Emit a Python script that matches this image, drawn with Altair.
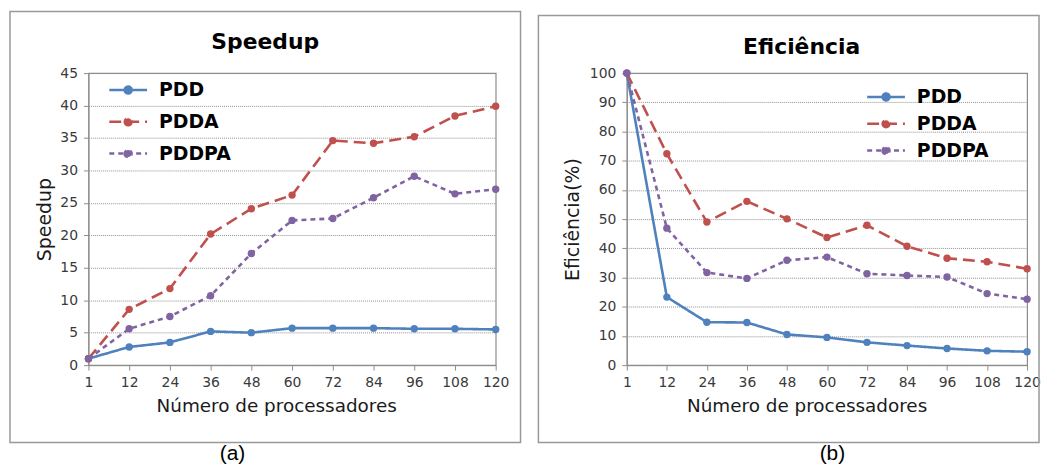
import altair as alt
import pandas as pd

# ---------------- data ----------------
procs = ["1", "12", "24", "36", "48", "60", "72", "84", "96", "108", "120"]
series = ["PDD", "PDDA", "PDDPA"]

speedup_pdd = [1, 2.8, 3.5, 5.2, 5.0, 5.7, 5.7, 5.7, 5.6, 5.6, 5.5]
speedup_pdda = [1, 8.6, 11.8, 20.2, 24.1, 26.2, 34.6, 34.2, 35.2, 38.4, 39.9]
speedup_pddpa = [1, 5.6, 7.5, 10.7, 17.2, 22.3, 22.6, 25.8, 29.1, 26.4, 27.1]

eff_pdd = [100, 23.3, 14.7, 14.6, 10.5, 9.5, 7.8, 6.7, 5.7, 4.9, 4.6]
eff_pdda = [100, 72.4, 49.0, 56.1, 50.1, 43.7, 47.9, 40.7, 36.6, 35.4, 33.0]
eff_pddpa = [100, 46.9, 31.7, 29.7, 35.9, 37.0, 31.3, 30.7, 30.2, 24.5, 22.6]

colors = ["#4F81BD", "#C0504D", "#8064A2"]
dashes = [[1, 0], [12, 6], [5, 4]]

FONT = "DejaVu Sans"
GRAY = "#8c8c8c"


def long_df(a, b, c):
    rows = []
    for s, vals in zip(series, [a, b, c]):
        for p, v in zip(procs, vals):
            rows.append({"proc": p, "serie": s, "valor": v})
    return pd.DataFrame(rows)


LEG_PATH = ("M-2,0H2M-0.37,0A0.37,0.37,0,1,0,0.37,0"
            "A0.37,0.37,0,1,0,-0.37,0Z")


def panel(df, ytitle, ymax, ystep, title, caption, w, h,
          leg_x, leg_y, row_pad, frame, title_pos, cap_pos, ytitle_pad,
          xtitle_x):
    legend = alt.Legend(
        title=None, orient="none", legendX=leg_x, legendY=leg_y,
        symbolType=LEG_PATH, symbolSize=361, symbolStrokeWidth=2.5,
        labelFont=FONT, labelFontSize=19, labelFontWeight="bold",
        labelColor="#000000", labelOffset=20, rowPadding=row_pad,
        padding=0,
    )
    x = alt.X("proc:O", sort=procs,
              scale=alt.Scale(type="point", padding=0),
              axis=alt.Axis(title="Número de processadores", labelAngle=0,
                            labelFont=FONT, labelFontSize=14,
                            labelColor="#3a3a3a", labelPadding=6,
                            titleFont=FONT, titleFontSize=18.5,
                            titleFontWeight="normal", titleColor="#1a1a1a",
                            titlePadding=7, titleX=xtitle_x,
                            tickSize=5, tickColor=GRAY,
                            domainColor=GRAY, grid=False))
    y = alt.Y("valor:Q",
              scale=alt.Scale(domain=[0, ymax], nice=False, zero=True),
              axis=alt.Axis(title=ytitle, values=list(range(0, ymax + 1, ystep)),
                            labelFont=FONT, labelFontSize=14,
                            labelColor="#3a3a3a", labelPadding=6,
                            titleFont=FONT, titleFontSize=19,
                            titleFontWeight="normal", titleColor="#1a1a1a",
                            titlePadding=ytitle_pad, tickSize=5,
                            tickColor=GRAY, domainColor=GRAY,
                            grid=True, gridDash=[1, 1], gridColor="#909090",
                            gridWidth=1))
    color = alt.Color("serie:N", scale=alt.Scale(domain=series, range=colors),
                      legend=legend)
    dash = alt.StrokeDash("serie:N",
                          scale=alt.Scale(domain=series, range=dashes),
                          legend=legend)

    base = alt.Chart(df)
    lines = base.mark_line(strokeWidth=2.6).encode(x=x, y=y, color=color,
                                                   strokeDash=dash)
    pts = base.mark_circle(size=55, opacity=1).encode(x=x, y=y, color=color)

    one = pd.DataFrame({"k": [0]})
    fx, fx2, fy, fy2 = frame
    box = alt.Chart(one).mark_rect(fillOpacity=0, stroke="#999999",
                                   strokeWidth=1.5, clip=False).encode(
        x=alt.value(fx), x2=alt.value(fx2), y=alt.value(fy), y2=alt.value(fy2))
    ttl = alt.Chart(one).mark_text(text=title, font=FONT, fontSize=22,
                                   fontWeight="bold", color="#000000",
                                   align="center", baseline="alphabetic").encode(
        x=alt.value(title_pos[0]), y=alt.value(title_pos[1]))
    cap = alt.Chart(one).mark_text(text=caption, font="Liberation Sans",
                                   fontSize=21, color="#000000",
                                   align="center", baseline="alphabetic").encode(
        x=alt.value(cap_pos[0]), y=alt.value(cap_pos[1]))
    return alt.layer(box, lines, pts, ttl, cap).properties(width=w, height=h)


left = panel(long_df(speedup_pdd, speedup_pdda, speedup_pddpa),
             "Speedup", 45, 5, "Speedup", "(a)", 410, 294,
             leg_x=29, leg_y=6, row_pad=11,
             frame=(-79, 435, -62, 372), title_pos=(178, -24),
             cap_pos=(145, 390), ytitle_pad=5, xtitle_x=189)

right = panel(long_df(eff_pdd, eff_pdda, eff_pddpa),
              "Eficiência(%)", 100, 10, "Eficiência", "(b)", 403, 294,
              leg_x=250, leg_y=13, row_pad=6,
              frame=(-89, 415, -58, 372), title_pos=(176, -19),
              cap_pos=(207, 390), ytitle_pad=7, xtitle_x=181)

chart = alt.hconcat(left, right, spacing=14).resolve_scale(
    color="independent", strokeDash="independent"
).resolve_legend(
    color="independent", strokeDash="independent"
).properties(
    padding={"left": 0, "top": 0, "right": 0, "bottom": 0}
).configure_view(stroke=GRAY, strokeWidth=1.2)

chart.save("out.html", embed_options={"renderer": "svg", "actions": False})
